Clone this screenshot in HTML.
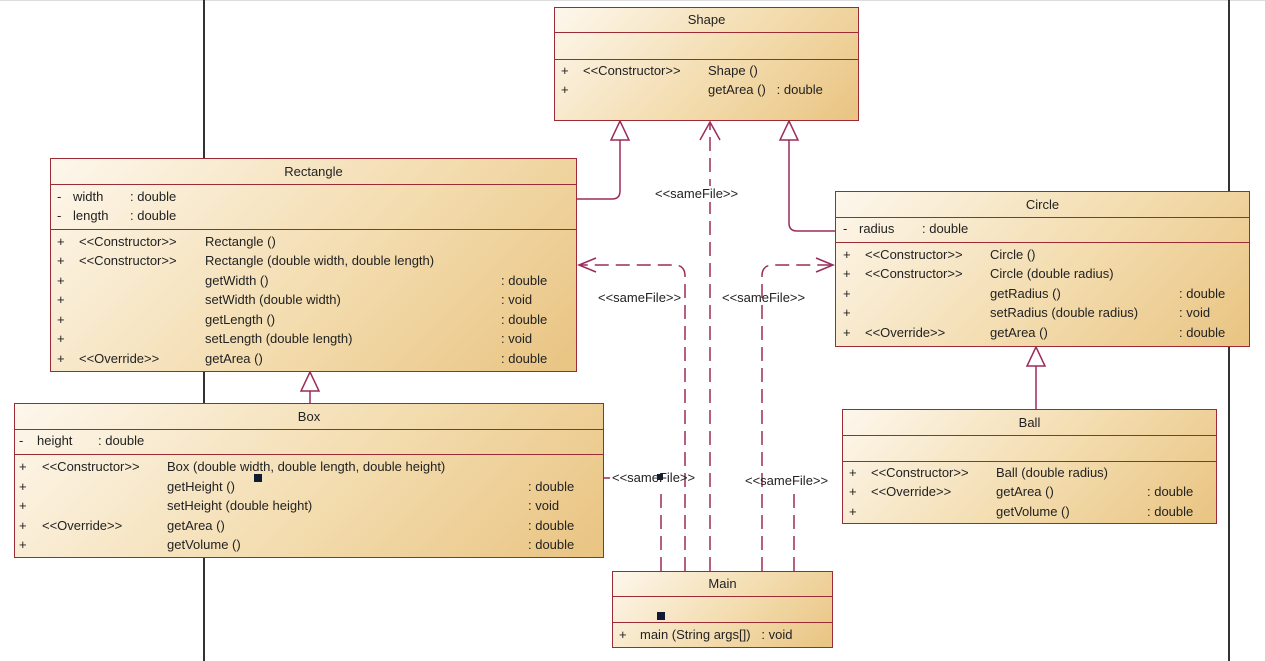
<!DOCTYPE html>
<html><head><meta charset="utf-8"><style>
html,body{margin:0;padding:0;}
body{width:1265px;height:661px;position:relative;overflow:hidden;background:#fff;font-family:"Liberation Sans",sans-serif;font-size:13px;color:#222;}
.vl{position:absolute;top:0;width:2px;height:661px;background:#333;}
.box{position:absolute;border:1.5px solid #9b2b35;background:linear-gradient(135deg,#fdf7ec 0%,#f3dcae 55%,#e9c482 100%);box-sizing:border-box;}
.sep{position:absolute;left:0;right:0;height:0;border-top:1.5px solid #9b2b35;}
.t{position:absolute;line-height:16px;white-space:pre;}
.ti{position:absolute;left:0;right:0;text-align:center;line-height:16px;}
svg{position:absolute;left:0;top:0;}
</style></head><body>
<div style="position:absolute;left:0;top:0;width:1265px;height:1px;background:#ddd"></div>
<div class="vl" style="left:203px"></div>
<div class="vl" style="left:1228px"></div>

<svg width="1265" height="661">
<g fill="none" stroke="#9b2b5a" stroke-width="1.5">
<path d="M576 199 H612 Q620 199 620 191 V140"/>
<polygon points="620,121 611,140 629,140" fill="#fff"/>
<path d="M835 231 H797 Q789 231 789 223 V140"/>
<polygon points="789,121 780,140 798,140" fill="#fff"/>
<path d="M310 403 V391"/>
<polygon points="310,372 301,391 319,391" fill="#fff"/>
<path d="M1036 409 V366"/>
<polygon points="1036,347 1027,366 1045,366" fill="#fff"/>
<g stroke-dasharray="14,7">
<path d="M710 571 V124"/>
<path d="M685 571 V276 Q685 265 674 265 H580"/>
<path d="M762 571 V276 Q762 265 773 265 H833"/>
<path d="M661 571 V490"/>
<path d="M794 571 V490"/>
</g>
<path d="M700 140 L710 122 L720 140"/>
<path d="M596 258 L579 265 L596 272"/>
<path d="M816 258 L833 265 L816 272"/>
<path d="M604 478 H610"/>
</g>
</svg>
<div style="position:absolute;left:254px;top:474px;width:8px;height:8px;background:#111a33"></div>
<div style="position:absolute;left:657px;top:612px;width:8px;height:8px;background:#111a33"></div>
<div style="position:absolute;left:657px;top:474px;width:6px;height:6px;background:#111a33"></div>

<span class="t" style="left:655px;top:186px;background:#fff">&lt;&lt;sameFile&gt;&gt;</span>
<span class="t" style="left:598px;top:290px">&lt;&lt;sameFile&gt;&gt;</span>
<span class="t" style="left:722px;top:290px">&lt;&lt;sameFile&gt;&gt;</span>
<span class="t" style="left:612px;top:470px">&lt;&lt;sameFile&gt;&gt;</span>
<span class="t" style="left:745px;top:473px">&lt;&lt;sameFile&gt;&gt;</span>

<!-- Shape -->
<div class="box" style="left:554px;top:7px;width:305px;height:114px">
<div class="ti" style="top:4px">Shape</div>
<div class="sep" style="top:24px"></div><div class="sep" style="top:51px"></div>
<span class="t" style="left:6px;top:55px">+</span><span class="t" style="left:28px;top:55px">&lt;&lt;Constructor&gt;&gt;</span><span class="t" style="left:153px;top:55px">Shape ()</span>
<span class="t" style="left:6px;top:74px">+</span><span class="t" style="left:153px;top:74px">getArea ()   : double</span>
</div>

<!-- Rectangle -->
<div class="box" style="left:50px;top:158px;width:527px;height:214px">
<div class="ti" style="top:5px">Rectangle</div>
<div class="sep" style="top:25px"></div><div class="sep" style="top:70px"></div>
<span class="t" style="left:6px;top:30px">-</span><span class="t" style="left:22px;top:30px">width</span><span class="t" style="left:79px;top:30px">: double</span>
<span class="t" style="left:6px;top:49px">-</span><span class="t" style="left:22px;top:49px">length</span><span class="t" style="left:79px;top:49px">: double</span>
<span class="t" style="left:6px;top:75px">+</span><span class="t" style="left:28px;top:75px">&lt;&lt;Constructor&gt;&gt;</span><span class="t" style="left:154px;top:75px">Rectangle ()</span>
<span class="t" style="left:6px;top:94px">+</span><span class="t" style="left:28px;top:94px">&lt;&lt;Constructor&gt;&gt;</span><span class="t" style="left:154px;top:94px">Rectangle (double width, double length)</span>
<span class="t" style="left:6px;top:114px">+</span><span class="t" style="left:154px;top:114px">getWidth ()</span><span class="t" style="left:450px;top:114px">: double</span>
<span class="t" style="left:6px;top:133px">+</span><span class="t" style="left:154px;top:133px">setWidth (double width)</span><span class="t" style="left:450px;top:133px">: void</span>
<span class="t" style="left:6px;top:153px">+</span><span class="t" style="left:154px;top:153px">getLength ()</span><span class="t" style="left:450px;top:153px">: double</span>
<span class="t" style="left:6px;top:172px">+</span><span class="t" style="left:154px;top:172px">setLength (double length)</span><span class="t" style="left:450px;top:172px">: void</span>
<span class="t" style="left:6px;top:192px">+</span><span class="t" style="left:28px;top:192px">&lt;&lt;Override&gt;&gt;</span><span class="t" style="left:154px;top:192px">getArea ()</span><span class="t" style="left:450px;top:192px">: double</span>
</div>

<!-- Circle -->
<div class="box" style="left:835px;top:191px;width:415px;height:156px">
<div class="ti" style="top:5px">Circle</div>
<div class="sep" style="top:25px"></div><div class="sep" style="top:50px"></div>
<span class="t" style="left:7px;top:29px">-</span><span class="t" style="left:23px;top:29px">radius</span><span class="t" style="left:86px;top:29px">: double</span>
<span class="t" style="left:7px;top:55px">+</span><span class="t" style="left:29px;top:55px">&lt;&lt;Constructor&gt;&gt;</span><span class="t" style="left:154px;top:55px">Circle ()</span>
<span class="t" style="left:7px;top:74px">+</span><span class="t" style="left:29px;top:74px">&lt;&lt;Constructor&gt;&gt;</span><span class="t" style="left:154px;top:74px">Circle (double radius)</span>
<span class="t" style="left:7px;top:94px">+</span><span class="t" style="left:154px;top:94px">getRadius ()</span><span class="t" style="left:343px;top:94px">: double</span>
<span class="t" style="left:7px;top:113px">+</span><span class="t" style="left:154px;top:113px">setRadius (double radius)</span><span class="t" style="left:343px;top:113px">: void</span>
<span class="t" style="left:7px;top:133px">+</span><span class="t" style="left:29px;top:133px">&lt;&lt;Override&gt;&gt;</span><span class="t" style="left:154px;top:133px">getArea ()</span><span class="t" style="left:343px;top:133px">: double</span>
</div>

<!-- Box -->
<div class="box" style="left:14px;top:403px;width:590px;height:155px">
<div class="ti" style="top:5px">Box</div>
<div class="sep" style="top:25px"></div><div class="sep" style="top:50px"></div>
<span class="t" style="left:4px;top:29px">-</span><span class="t" style="left:22px;top:29px">height</span><span class="t" style="left:83px;top:29px">: double</span>
<span class="t" style="left:4px;top:55px">+</span><span class="t" style="left:27px;top:55px">&lt;&lt;Constructor&gt;&gt;</span><span class="t" style="left:152px;top:55px">Box (double width, double length, double height)</span>
<span class="t" style="left:4px;top:75px">+</span><span class="t" style="left:152px;top:75px">getHeight ()</span><span class="t" style="left:513px;top:75px">: double</span>
<span class="t" style="left:4px;top:94px">+</span><span class="t" style="left:152px;top:94px">setHeight (double height)</span><span class="t" style="left:513px;top:94px">: void</span>
<span class="t" style="left:4px;top:114px">+</span><span class="t" style="left:27px;top:114px">&lt;&lt;Override&gt;&gt;</span><span class="t" style="left:152px;top:114px">getArea ()</span><span class="t" style="left:513px;top:114px">: double</span>
<span class="t" style="left:4px;top:133px">+</span><span class="t" style="left:152px;top:133px">getVolume ()</span><span class="t" style="left:513px;top:133px">: double</span>
</div>
<div style="position:absolute;left:254px;top:474px;width:8px;height:8px;background:#111a33"></div>

<!-- Ball -->
<div class="box" style="left:842px;top:409px;width:375px;height:115px">
<div class="ti" style="top:5px">Ball</div>
<div class="sep" style="top:25px"></div><div class="sep" style="top:51px"></div>
<span class="t" style="left:6px;top:55px">+</span><span class="t" style="left:28px;top:55px">&lt;&lt;Constructor&gt;&gt;</span><span class="t" style="left:153px;top:55px">Ball (double radius)</span>
<span class="t" style="left:6px;top:74px">+</span><span class="t" style="left:28px;top:74px">&lt;&lt;Override&gt;&gt;</span><span class="t" style="left:153px;top:74px">getArea ()</span><span class="t" style="left:304px;top:74px">: double</span>
<span class="t" style="left:6px;top:94px">+</span><span class="t" style="left:153px;top:94px">getVolume ()</span><span class="t" style="left:304px;top:94px">: double</span>
</div>

<!-- Main -->
<div class="box" style="left:612px;top:571px;width:221px;height:77px">
<div class="ti" style="top:4px">Main</div>
<div class="sep" style="top:24px"></div><div class="sep" style="top:50px"></div>
<span class="t" style="left:6px;top:55px">+</span><span class="t" style="left:27px;top:55px">main (String args[])   : void</span>
</div>
<div style="position:absolute;left:657px;top:612px;width:8px;height:8px;background:#111a33"></div>
</body></html>
